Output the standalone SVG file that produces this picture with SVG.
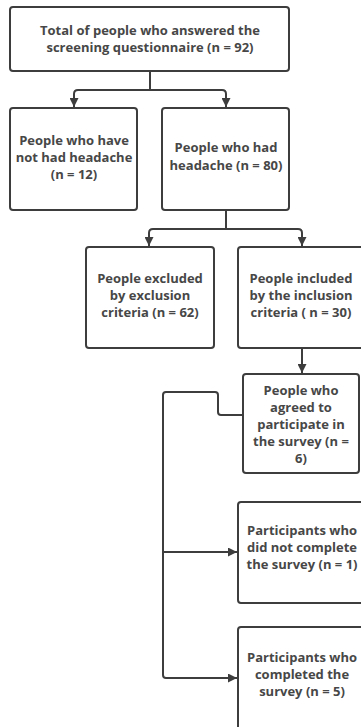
<svg xmlns="http://www.w3.org/2000/svg" width="361" height="727" viewBox="0 0 361 727">
<style>
.box{fill:#fff;stroke:#3d3d3d;stroke-width:2}
.t{font-family:"Open Sans","Liberation Sans",Arial,sans-serif;font-weight:bold;font-size:13px;fill:#474747;text-anchor:middle}
.c{fill:none;stroke:#3d3d3d;stroke-width:2;stroke-linejoin:round}
</style>
<defs>
<marker id="ah" viewBox="0 0 10 10" refX="10" refY="5" markerWidth="4.5" markerHeight="4.5" orient="auto" markerUnits="strokeWidth">
<path d="M0,0 L10,5 L0,10 z" fill="#3d3d3d"/>
</marker>
</defs>
<rect width="361" height="727" fill="#fff"/>
<g id="connectors">
<path class="c" d="M150,71 V90"/>
<path class="c" d="M150,90 H78 Q74,90 74,94 V107" marker-end="url(#ah)"/>
<path class="c" d="M150,90 H222 Q226,90 226,94 V107" marker-end="url(#ah)"/>
<path class="c" d="M226,210 V229"/>
<path class="c" d="M226,229 H153 Q149,229 149,233 V246" marker-end="url(#ah)"/>
<path class="c" d="M226,229 H298 Q302,229 302,233 V246" marker-end="url(#ah)"/>
<path class="c" d="M302,348 V373" marker-end="url(#ah)"/>
<path class="c" d="M243,415 H221 Q218,415 218,412 V395 Q218,392 215,392 H166 Q163,392 163,395 V675 Q163,678 166,678 H237" marker-end="url(#ah)"/>
<path class="c" d="M163,552 H237" marker-end="url(#ah)"/>
</g>
<g id="n1">
<rect class="box" x="10" y="7" width="279" height="64" rx="3"/>
<text class="t" x="150" y="35">Total of people who answered the</text>
<text class="t" x="150" y="52">screening questionnaire (n = 92)</text>
</g>
<g id="n2">
<rect class="box" x="10" y="108" width="127" height="102" rx="3"/>
<text class="t" x="74" y="145">People who have</text>
<text class="t" x="74" y="162">not had headache</text>
<text class="t" x="74" y="179">(n = 12)</text>
</g>
<g id="n3">
<rect class="box" x="162" y="108" width="127" height="102" rx="3"/>
<text class="t" x="226" y="152">People who had</text>
<text class="t" x="226" y="170">headache (n = 80)</text>
</g>
<g id="n4">
<rect class="box" x="86" y="247" width="128" height="101" rx="3"/>
<text class="t" x="150" y="283">People excluded</text>
<text class="t" x="150" y="300">by exclusion</text>
<text class="t" x="150" y="317">criteria (n = 62)</text>
</g>
<g id="n5">
<rect class="box" x="238" y="247" width="132" height="101" rx="3"/>
<text class="t" x="301" y="283">People included</text>
<text class="t" x="301" y="300">by the inclusion</text>
<text class="t" x="301" y="317">criteria ( n = 30)</text>
</g>
<g id="n6">
<rect class="box" x="243" y="374" width="116" height="99" rx="3"/>
<text class="t" x="301" y="395">People who</text>
<text class="t" x="301" y="412">agreed to</text>
<text class="t" x="301" y="429">participate in</text>
<text class="t" x="301" y="446">the survey (n =</text>
<text class="t" x="301" y="463">6)</text>
</g>
<g id="n7">
<rect class="box" x="238" y="502" width="132" height="101" rx="3"/>
<text class="t" x="302" y="535">Participants who</text>
<text class="t" x="302" y="552">did not complete</text>
<text class="t" x="302" y="569">the survey (n = 1)</text>
</g>
<g id="n8">
<rect class="box" x="238" y="627" width="132" height="112" rx="3"/>
<text class="t" x="302" y="662">Participants who</text>
<text class="t" x="302" y="679">completed the</text>
<text class="t" x="302" y="696">survey (n = 5)</text>
</g>
</svg>
